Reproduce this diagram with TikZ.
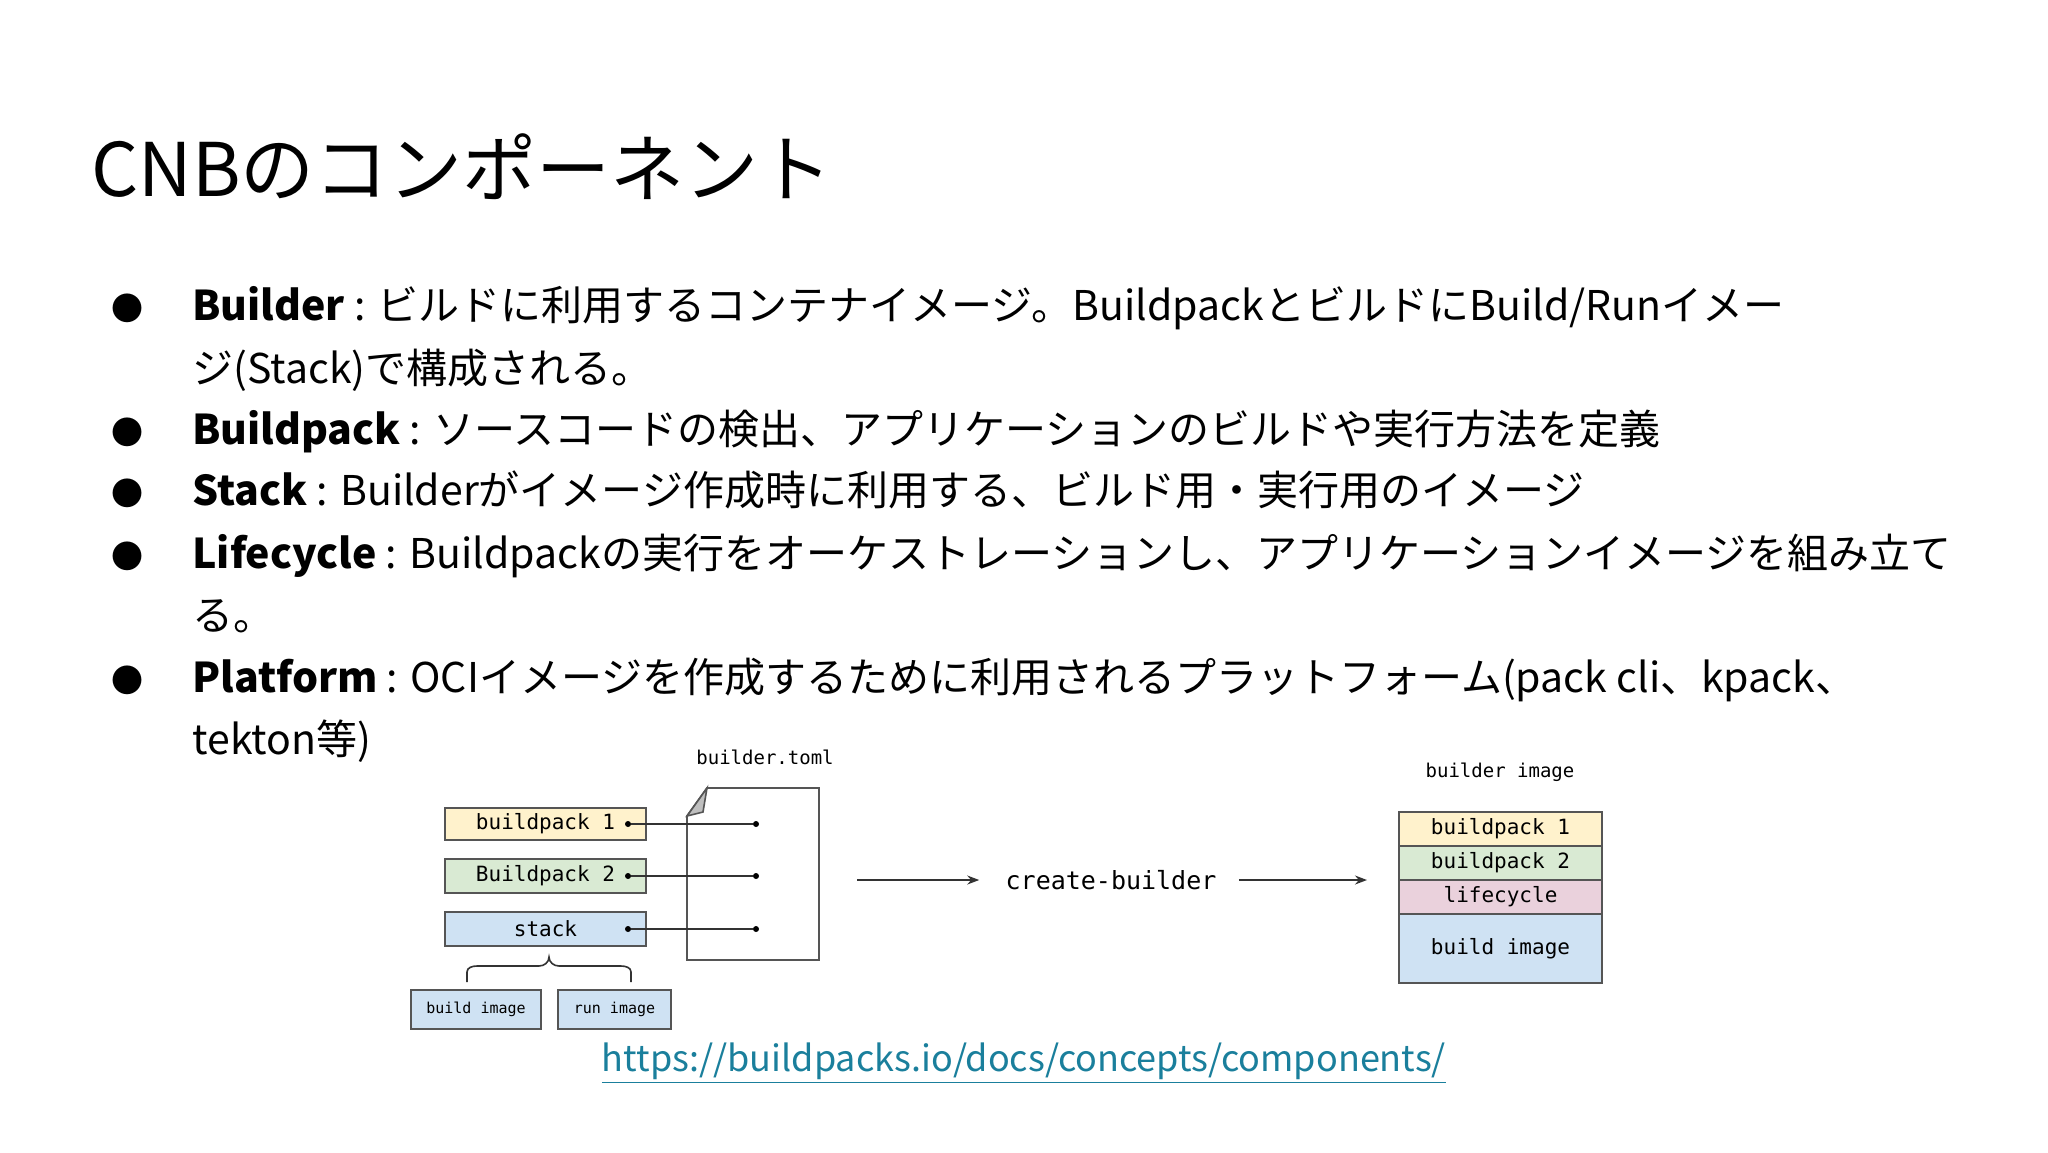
\documentclass[tikz,border=0pt]{standalone}
\usepackage{fontspec}
\setmainfont{Noto Sans CJK JP}
\newfontfamily\monof{DejaVu Sans Mono}
\usetikzlibrary{arrows.meta,decorations.pathreplacing}
\definecolor{cyel}{HTML}{FFF2CC}
\definecolor{cgrn}{HTML}{D9EAD3}
\definecolor{cpnk}{HTML}{EAD1DC}
\definecolor{cblu}{HTML}{CFE2F3}
\definecolor{cbrd}{HTML}{555555}
\definecolor{clink}{HTML}{1A7F9C}
\tikzset{
 body/.style={anchor=base west,font=\fontsize{20.5}{25}\selectfont,inner sep=0},
 bul/.style={anchor=base,font=\fontsize{16}{20}\selectfont,inner sep=0},
 box/.style={draw=cbrd,line width=0.9pt,inner sep=0,font=\monof\fontsize{10.5}{12}\selectfont},
 mono/.style={font=\monof\fontsize{9.5}{12}\selectfont,inner sep=0},
 conn/.style={line width=0.8pt,draw=black!80},
 dotc/.style={circle,fill=black,inner sep=0,minimum size=3pt}
}
\begin{document}
\begin{tikzpicture}[x=0.5pt,y=-0.5pt]
\useasboundingbox (0,0) rectangle (2048,1152);
\node[anchor=base west,inner sep=0,font=\fontsize{37}{44}\selectfont] (title) at (91,196) {CNBのコンポーネント};
% bullets
\foreach \y/\n in {320/b1,444/b2,505/b3,568/b4,692/b5}{\node[bul] (\n) at (127,\y) {●};}
\node[body] (l1) at (192,320) {\textbf{Builder} : ビルドに利用するコンテナイメージ。BuildpackとビルドにBuild/Runイメー};
\node[body] (l1b) at (192,383) {ジ(Stack)で構成される。};
\node[body] (l2) at (192,444) {\textbf{Buildpack} : ソースコードの検出、アプリケーションのビルドや実行方法を定義};
\node[body] (l3) at (192,505) {\textbf{Stack} : Builderがイメージ作成時に利用する、ビルド用・実行用のイメージ};
\node[body] (l4) at (192,568) {\textbf{Lifecycle} : Buildpackの実行をオーケストレーションし、アプリケーションイメージを組み立て};
\node[body] (l4b) at (192,630) {る。};
\node[body] (l5) at (192,692) {\textbf{Platform} : OCIイメージを作成するために利用されるプラットフォーム(pack cli、kpack、};
\node[body] (l5b) at (192,754) {tekton等)};
% left boxes
\node[box,fill=cyel,minimum width=100.5pt,minimum height=16pt] (bp1) at (545.5,824) {buildpack 1};
\node[box,fill=cgrn,minimum width=100.5pt,minimum height=17pt] (bp2) at (545.5,876) {Buildpack 2};
\node[box,fill=cblu,minimum width=100.5pt,minimum height=17pt] (stk) at (545.5,929) {stack};
\node[box,fill=cblu,minimum width=65pt,minimum height=19.5pt,font=\monof\fontsize{7.5}{9}\selectfont] (bi) at (476,1009.5) {build image};
\node[box,fill=cblu,minimum width=56.5pt,minimum height=19.5pt,font=\monof\fontsize{7.5}{9}\selectfont] (ri) at (614.5,1009.5) {run image};
\draw[conn] (467,982) -- (467,972) to[out=90,in=180] (477,966) -- (539,966) to[out=0,in=-90] (549,957) to[out=-90,in=180] (559,966) -- (621,966) to[out=0,in=90] (631,972) -- (631,982);
% document
\node[mono] (toml) at (765,757) {builder.toml};
\draw[line width=0.9pt,draw=cbrd,fill=white] (707,788) -- (819,788) -- (819,960) -- (687,960) -- (687,816) -- cycle;
\draw[line width=0.8pt,draw=cbrd,fill=black!25] (707,788) -- (687,816) -- (703,812) -- cycle;
\coordinate (d1) at (756,824);
\coordinate (d2) at (756,876);
\coordinate (d3) at (756,929);
\node[dotc] (s1) at (628,824) {};
\node[dotc] (s2) at (628,876) {};
\node[dotc] (s3) at (628,929) {};
\node[dotc] (e1) at (d1) {};
\node[dotc] (e2) at (d2) {};
\node[dotc] (e3) at (d3) {};
\draw[conn] (s1) -- (e1); \draw[conn] (s2) -- (e2); \draw[conn] (s3) -- (e3);
% create-builder
\node[mono,font=\monof\fontsize{12.5}{14}\selectfont] (cb) at (1111,880) {create-builder};
\coordinate (a0) at (857,880);
\coordinate (a3) at (1367,880);
\draw[conn,-{Stealth[length=6pt]}] (a0) -- ([xshift=-13pt]cb.west);
\draw[conn,-{Stealth[length=6pt]}] ([xshift=11pt]cb.east) -- (a3);
% builder image
\node[mono] (bil) at (1500,772) {builder image};
\node[box,fill=cyel,minimum width=101.5pt,minimum height=17pt] (r1) at (1500.5,829) {buildpack 1};
\node[box,fill=cgrn,minimum width=101.5pt,minimum height=17pt] (r2) at (1500.5,863) {buildpack 2};
\node[box,fill=cpnk,minimum width=101.5pt,minimum height=17pt] (r3) at (1500.5,897) {lifecycle};
\node[box,fill=cblu,minimum width=101.5pt,minimum height=34.5pt] (r4) at (1500.5,948.5) {build image};
% link
\node[inner sep=0,font=\fontsize{18}{22}\selectfont,text=clink] (url) at (1024,1063) {\underline{https://buildpacks.io/docs/concepts/components/}};
\end{tikzpicture}
\end{document}
